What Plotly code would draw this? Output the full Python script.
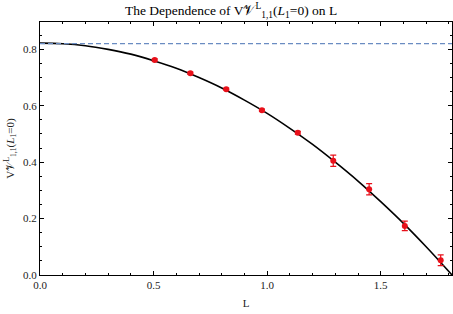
import plotly.graph_objects as go

# Data points
L_pts = [0.505, 0.662, 0.820, 0.977, 1.135, 1.291, 1.449, 1.606, 1.764]
V_pts = [0.762, 0.715, 0.659, 0.584, 0.504, 0.405, 0.304, 0.174, 0.052]
V_err = [0.004, 0.004, 0.004, 0.004, 0.005, 0.020, 0.020, 0.017, 0.019]

# Fitted curve samples
L_curve = [0, 0.1, 0.2, 0.3, 0.4, 0.5, 0.6, 0.7, 0.8, 0.9, 1.0, 1.1, 1.2, 1.3,
           1.4, 1.5, 1.6, 1.7, 1.8138]
V_curve = [0.822, 0.820, 0.813, 0.800, 0.783, 0.760, 0.733, 0.700, 0.663, 0.620,
           0.573, 0.520, 0.463, 0.400, 0.333, 0.260, 0.183, 0.100, 0.0]

ref_level = 0.82
x_range = [0, 1.8138]
y_range = [0, 0.897]

serif = "Liberation Serif, Times New Roman, serif"

fig = go.Figure()
fig.add_trace(go.Scatter(
    x=L_curve, y=V_curve, mode="lines", line=dict(color="black", width=1.6, shape="spline"),
    showlegend=False))
fig.add_trace(go.Scatter(
    x=x_range, y=[ref_level, ref_level], mode="lines",
    line=dict(color="#6A8CC2", width=1.2, dash="5px,3px"),
    hoverinfo="skip", showlegend=False))
fig.add_trace(go.Scatter(
    x=L_pts, y=V_pts, mode="markers",
    marker=dict(color="#E8101A", size=6),
    error_y=dict(type="data", array=V_err, color="#E8101A", thickness=1.2, width=3),
    showlegend=False))

axis_common = dict(
    showgrid=False, zeroline=False, showline=True, linecolor="black", linewidth=1.3,
    mirror="ticks", ticks="inside", ticklen=4, tickcolor="black", tickwidth=1,
    tickfont=dict(family=serif, size=11, color="#222"),
)

fig.update_xaxes(range=x_range, dtick=0.5, tick0=0, tickformat=".1f",
                 minor=dict(dtick=0.1, ticks="inside", ticklen=2, tickcolor="black"),
                 title=dict(text="L", font=dict(family=serif, size=11, color="#222"), standoff=8),
                 **axis_common)
fig.update_yaxes(range=y_range, dtick=0.2, tick0=0, tickformat=".1f",
                 minor=dict(dtick=0.05, ticks="inside", ticklen=2, tickcolor="black"),
                 title=dict(text="V𝒱<sup>L</sup><sub>1,1</sub>(<i>L</i><sub>1</sub>=0)",
                            font=dict(family=serif, size=11, color="#222"), standoff=6),
                 **axis_common)

fig.update_layout(
    width=453, height=314,
    margin=dict(l=40, r=1, t=22, b=39),
    paper_bgcolor="white", plot_bgcolor="white",
    title=dict(text="The Dependence of V𝒱<sup>L</sup><sub>1,1</sub>(<i>L</i><sub>1</sub>=0) on L",
               x=0.51, xanchor="center", y=0.968, yanchor="middle",
               font=dict(family=serif, size=13.5, color="black")),
)

fig.write_html("out.html", config={"displayModeBar": False},
               post_script="document.body.style.margin='0';document.body.style.overflow='hidden';")
